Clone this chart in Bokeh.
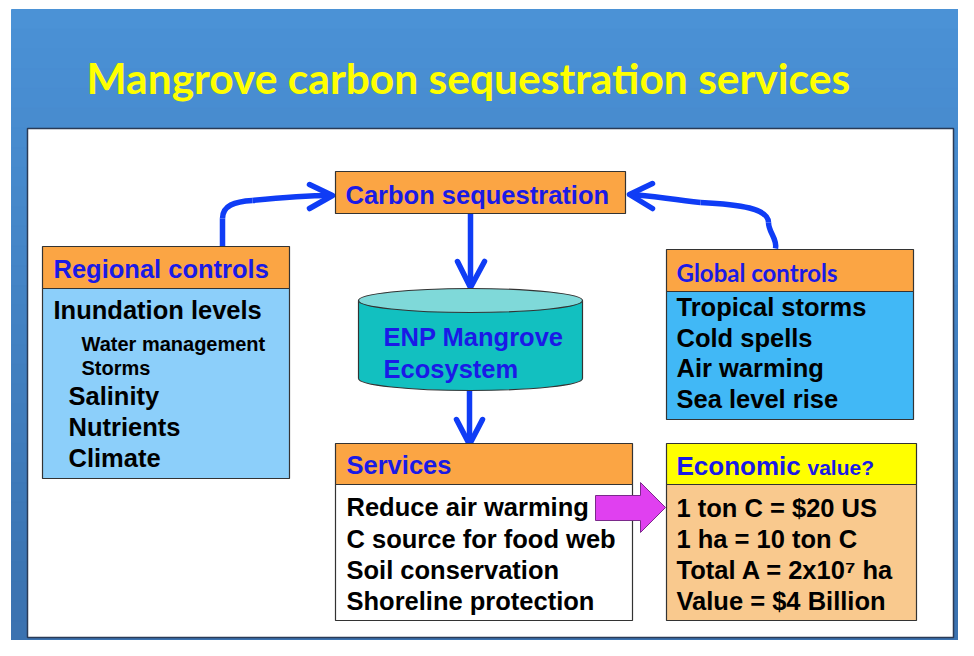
import numpy as np
from bokeh.plotting import figure
from bokeh.models import Range1d
from bokeh.core.properties import value
from bokeh.embed import file_html
from bokeh.resources import INLINE

# ---------------- content ----------------
title = "Mangrove carbon sequestration services"
carbon_label = "Carbon sequestration"
ecosystem_lines = ["ENP Mangrove", "Ecosystem"]
regional_header = "Regional controls"
regional_main = ["Inundation levels"]
regional_sub = ["Water management", "Storms"]
regional_more = ["Salinity", "Nutrients", "Climate"]
global_header = "Global controls"
global_items = ["Tropical storms", "Cold spells", "Air warming", "Sea level rise"]
services_header = "Services"
services_items = ["Reduce air warming", "C source for food web", "Soil conservation", "Shoreline protection"]
econ_header = ["Economic", "value?"]
econ_items = ["1 ton C = $20 US", "1 ha = 10 ton C", "Total A = 2x10\u2077 ha", "Value = $4 Billion"]

ARIAL = value("Liberation Sans")
CALIBRI = value("Lato")
BLUE_TXT = "#1a1ae6"
ARROW = "#0f3cf5"
ORANGE = "#fba544"
EDGE = "#333333"
BIG = 25.5

p = figure(width=958, height=640, x_range=Range1d(0, 958), y_range=Range1d(640, 0),
           output_backend="svg", toolbar_location=None, min_border=0)
p.axis.visible = False
p.grid.visible = False
p.outline_line_color = None
p.background_fill_color = "white"
p.border_fill_color = "white"

# background gradient (styling)
n = 32
edges = np.linspace(9, 640, n + 1)
c0 = np.array([0x4b, 0x92, 0xd6])
c1 = np.array([0x3b, 0x72, 0xb0])
cols = []
for i in range(n):
    t = i / (n - 1)
    c = (c0 * (1 - t) + c1 * t).astype(int)
    cols.append("#%02x%02x%02x" % tuple(c))
p.quad(left=11, right=958, top=edges[:-1], bottom=edges[1:] + 1.5, fill_color=cols,
       line_color=cols, line_width=1)


def txt(xs, ys, texts, size, color="black", font=ARIAL):
    # ys are the desired baselines; shift for renderer's baseline offset
    ys = [y - 0.34 * size for y in ys]
    p.text(x=xs, y=ys, text=texts, text_font=font, text_font_style="bold",
           text_font_size="%gpx" % size, text_color=color, text_baseline="alphabetic")


# title
txt([86], [91], [title], 42.5, "#ffff00", CALIBRI)

# white panel
p.quad(left=[27], right=[953], top=[128], bottom=[637], fill_color="white",
       line_color="#2a3a55", line_width=1.5)


def box(l, r, t, m, b, head_fill, body_fill):
    p.quad(left=[l], right=[r], top=[t], bottom=[m], fill_color=head_fill, line_color=EDGE, line_width=1.2)
    if b is not None:
        p.quad(left=[l], right=[r], top=[m], bottom=[b], fill_color=body_fill, line_color=EDGE, line_width=1.2)


def chevron(tx, ty, ax, ay, bx, by):
    p.multi_line(xs=[[ax, tx, bx]], ys=[[ay, ty, by]], line_color=ARROW, line_width=5.5,
                 line_cap="round", line_join="round")

# ---------------- arrows ----------------
# regional -> carbon
p.line(x=[222, 222], y=[246, 218], line_color=ARROW, line_width=5.5)
p.bezier(x0=[222], y0=[218], x1=[252], y1=[200], cx0=[222], cy0=[205], cx1=[234], cy1=[201],
         line_color=ARROW, line_width=5.5)
p.bezier(x0=[252], y0=[200], x1=[331], y1=[195], cx0=[280], cy0=[197], cx1=[310], cy1=[195],
         line_color=ARROW, line_width=5.5)
chevron(332, 195, 309, 184, 309, 208)

# global -> carbon
p.bezier(x0=[775], y0=[248], x1=[768], y1=[222], cx0=[777], cy0=[238], cx1=[768], cy1=[232],
         line_color=ARROW, line_width=5.5)
p.bezier(x0=[768], y0=[222], x1=[700], y1=[202], cx0=[768], cy0=[208], cx1=[740], cy1=[204],
         line_color=ARROW, line_width=5.5)
p.bezier(x0=[700], y0=[202], x1=[630], y1=[194], cx0=[670], cy0=[199], cx1=[650], cy1=[195],
         line_color=ARROW, line_width=5.5)
chevron(629, 194, 652, 183, 652, 208)

# carbon -> ecosystem
p.line(x=[470, 470], y=[213, 286], line_color=ARROW, line_width=5.5)
chevron(470, 287, 457, 261, 484, 261)

# ecosystem -> services
p.line(x=[469, 469], y=[388, 443], line_color=ARROW, line_width=5.5)
chevron(469, 444, 456, 419, 482, 419)

# ---------------- boxes ----------------
box(335, 625, 171, 213, None, ORANGE, None)
txt([345], [203], [carbon_label], BIG, BLUE_TXT)

# regional controls
box(42, 289, 246, 288, 478, ORANGE, "#8ccffa")
txt([53], [277], [regional_header], BIG, BLUE_TXT)
txt([53], [318], regional_main, BIG)
txt([81, 81], [350, 374], regional_sub, 20)
txt([68, 68, 68], [404, 435, 466], regional_more, BIG)

# global controls
box(666, 913, 249, 291, 419, ORANGE, "#41b8f6")
txt([676], [280], [global_header], 24, BLUE_TXT, CALIBRI)
txt([676] * 4, [315, 346, 376, 407], global_items, BIG)

# cylinder
p.ellipse(x=[470], y=[378], width=224, height=24, fill_color="#12c0c0", line_color=EDGE, line_width=1.2)
p.quad(left=[358], right=[582], top=[300], bottom=[378], fill_color="#12c0c0", line_color=None)
p.segment(x0=[358, 582], y0=[300, 300], x1=[358, 582], y1=[378, 378], line_color=EDGE, line_width=1.2)
p.ellipse(x=[470], y=[300], width=224, height=24, fill_color="#7fd9d9", line_color=EDGE, line_width=1.2)
txt([383, 383], [345, 377], ecosystem_lines, BIG, BLUE_TXT)

# services
box(335, 632, 443, 484, 620, ORANGE, "white")
txt([346], [473], [services_header], BIG, BLUE_TXT)
txt([346] * 4, [515, 547, 578, 609], services_items, BIG)

# economic value
box(666, 916, 443, 484, 620, "#ffff00", "#f9c98e")
txt([676], [474], [econ_header[0]], 26, BLUE_TXT)
txt([807], [474], [econ_header[1]], 21, BLUE_TXT)
txt([676] * 4, [516, 547, 578, 609], econ_items, BIG)

# magenta block arrow
p.patch(x=[595, 640, 640, 665, 640, 640, 595], y=[495, 495, 482, 507, 532, 520, 520],
        fill_color="#e040f0", line_color="#7a2a8a", line_width=1)

open("out.html", "w").write(file_html(p, INLINE))
